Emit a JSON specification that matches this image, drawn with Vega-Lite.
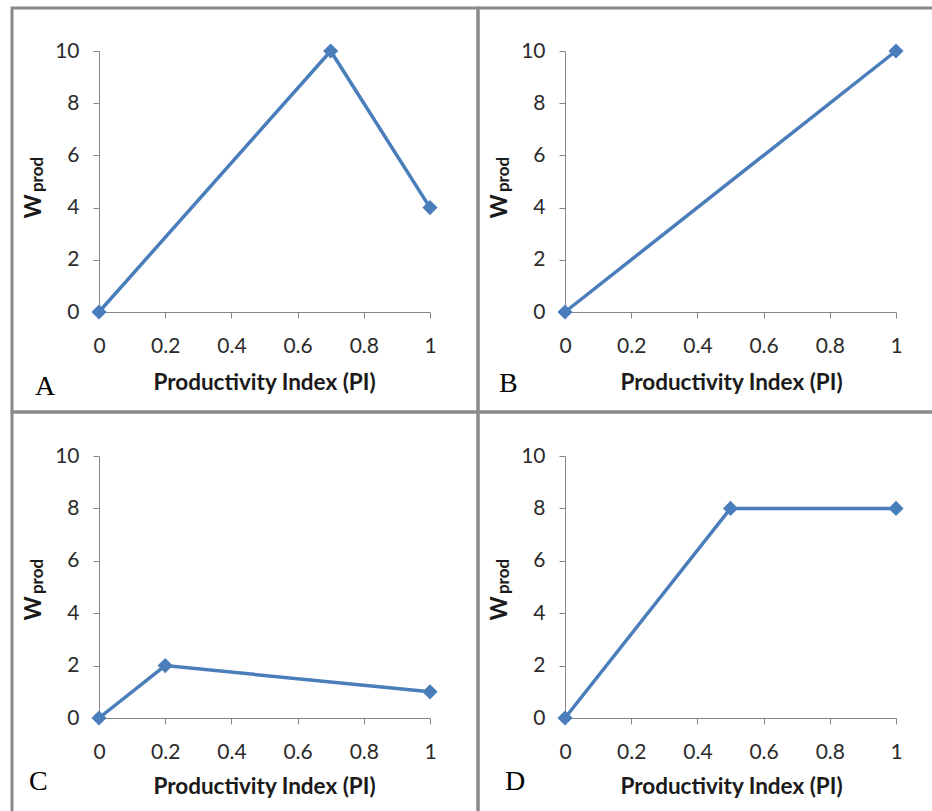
{
  "$schema": "https://vega.github.io/schema/vega-lite/v6.json",
  "padding": {"left": 10, "top": 6, "right": 0, "bottom": 0},
  "background": "white",
  "columns": 2,
  "spacing": 0,
  "bounds": "flush",
  "config": {
    "view": {"stroke": "#8a8a8a", "strokeWidth": 3},
    "axis": {
      "grid": false,
      "domainColor": "#868686",
      "tickColor": "#868686",
      "domainWidth": 1,
      "tickWidth": 1,
      "tickSize": 6,
      "labelFont": "Lato",
      "labelFontSize": 21,
      "labelColor": "#2b2b2b",
      "titleFont": "Lato",
      "titleFontWeight": "bold",
      "titleColor": "#1a1a1a",
      "labelOverlap": false,
      "labelFlush": false
    },
    "point": {"shape": "diamond", "filled": true, "size": 230, "color": "#4A7EBB", "opacity": 1},
    "line": {"color": "#4A7EBB", "strokeWidth": 3.5},
    "title": {"font": "Liberation Serif", "fontSize": 28, "fontWeight": "normal", "color": "#000000"}
  },
  "concat": [
    {
      "width": 466, "height": 404,
      "title": {"text": "A", "orient": "bottom", "anchor": "start", "frame": "group", "offset": -17, "dx": 23, "baseline": "alphabetic"},
      "data": {"values": [{"pi": 0, "w": 0}, {"pi": 0.7, "w": 10}, {"pi": 1, "w": 4}]},
      "layer": [
        {
          "mark": {"type": "line"},
          "encoding": {
            "x": {"field": "pi", "type": "quantitative", "scale": {"domain": [0, 1], "range": [87, 418], "nice": false, "zero": false},
              "axis": {"title": "Productivity Index (PI)", "values": [0, 0.2, 0.4, 0.6, 0.8, 1], "format": "~g", "offset": -100, "labelPadding": 17, "titleFontSize": 22.5, "titleX": 252, "titleY": 77, "titleBaseline": "alphabetic", "titleAlign": "center"}},
            "y": {"field": "w", "type": "quantitative", "scale": {"domain": [0, 10], "range": [304, 43], "nice": false},
              "axis": {"title": "W", "values": [0, 2, 4, 6, 8, 10], "orient": "left", "offset": -87, "labelPadding": 14, "titleFontSize": 23, "titleAngle": -90, "titleX": -59, "titleY": 198, "titleBaseline": "alphabetic", "titleAlign": "center"}}
          }
        },
        {
          "mark": {"type": "point"},
          "encoding": {
            "x": {"field": "pi", "type": "quantitative"},
            "y": {"field": "w", "type": "quantitative",
              "axis": {"title": "prod", "orient": "left", "offset": -87, "labels": false, "ticks": false, "domain": false, "titleFontSize": 17, "titleAngle": -90, "titleX": -56.5, "titleY": 166, "titleBaseline": "alphabetic", "titleAlign": "center"}}
          }
        }
      ],
      "resolve": {"axis": {"y": "independent"}}
    },
    {
      "width": 466, "height": 404,
      "title": {"text": "B", "orient": "bottom", "anchor": "start", "frame": "group", "offset": -20, "dx": 21, "baseline": "alphabetic"},
      "data": {"values": [{"pi": 0, "w": 0}, {"pi": 1, "w": 10}]},
      "layer": [
        {
          "mark": {"type": "line"},
          "encoding": {
            "x": {"field": "pi", "type": "quantitative", "scale": {"domain": [0, 1], "range": [87, 418], "nice": false, "zero": false},
              "axis": {"title": "Productivity Index (PI)", "values": [0, 0.2, 0.4, 0.6, 0.8, 1], "format": "~g", "offset": -100, "labelPadding": 17, "titleFontSize": 22.5, "titleX": 253, "titleY": 77, "titleBaseline": "alphabetic", "titleAlign": "center"}},
            "y": {"field": "w", "type": "quantitative", "scale": {"domain": [0, 10], "range": [304, 43], "nice": false},
              "axis": {"title": "W", "values": [0, 2, 4, 6, 8, 10], "orient": "left", "offset": -87, "labelPadding": 14, "titleFontSize": 23, "titleAngle": -90, "titleX": -59, "titleY": 198, "titleBaseline": "alphabetic", "titleAlign": "center"}}
          }
        },
        {
          "mark": {"type": "point"},
          "encoding": {
            "x": {"field": "pi", "type": "quantitative"},
            "y": {"field": "w", "type": "quantitative",
              "axis": {"title": "prod", "orient": "left", "offset": -87, "labels": false, "ticks": false, "domain": false, "titleFontSize": 17, "titleAngle": -90, "titleX": -56.5, "titleY": 166, "titleBaseline": "alphabetic", "titleAlign": "center"}}
          }
        }
      ],
      "resolve": {"axis": {"y": "independent"}}
    },
    {
      "width": 466, "height": 404,
      "title": {"text": "C", "orient": "bottom", "anchor": "start", "frame": "group", "offset": -26, "dx": 17, "baseline": "alphabetic"},
      "data": {"values": [{"pi": 0, "w": 0}, {"pi": 0.2, "w": 2}, {"pi": 1, "w": 1}]},
      "layer": [
        {
          "mark": {"type": "line"},
          "encoding": {
            "x": {"field": "pi", "type": "quantitative", "scale": {"domain": [0, 1], "range": [87, 418], "nice": false, "zero": false},
              "axis": {"title": "Productivity Index (PI)", "values": [0, 0.2, 0.4, 0.6, 0.8, 1], "format": "~g", "offset": -98, "labelPadding": 17, "titleFontSize": 22.5, "titleX": 252, "titleY": 75, "titleBaseline": "alphabetic", "titleAlign": "center"}},
            "y": {"field": "w", "type": "quantitative", "scale": {"domain": [0, 10], "range": [306, 44], "nice": false},
              "axis": {"title": "W", "values": [0, 2, 4, 6, 8, 10], "orient": "left", "offset": -87, "labelPadding": 14, "titleFontSize": 23, "titleAngle": -90, "titleX": -59, "titleY": 196, "titleBaseline": "alphabetic", "titleAlign": "center"}}
          }
        },
        {
          "mark": {"type": "point"},
          "encoding": {
            "x": {"field": "pi", "type": "quantitative"},
            "y": {"field": "w", "type": "quantitative",
              "axis": {"title": "prod", "orient": "left", "offset": -87, "labels": false, "ticks": false, "domain": false, "titleFontSize": 17, "titleAngle": -90, "titleX": -56.5, "titleY": 164, "titleBaseline": "alphabetic", "titleAlign": "center"}}
          }
        }
      ],
      "resolve": {"axis": {"y": "independent"}}
    },
    {
      "width": 466, "height": 404,
      "title": {"text": "D", "orient": "bottom", "anchor": "start", "frame": "group", "offset": -26, "dx": 27, "baseline": "alphabetic"},
      "data": {"values": [{"pi": 0, "w": 0}, {"pi": 0.5, "w": 8}, {"pi": 1, "w": 8}]},
      "layer": [
        {
          "mark": {"type": "line"},
          "encoding": {
            "x": {"field": "pi", "type": "quantitative", "scale": {"domain": [0, 1], "range": [87, 418], "nice": false, "zero": false},
              "axis": {"title": "Productivity Index (PI)", "values": [0, 0.2, 0.4, 0.6, 0.8, 1], "format": "~g", "offset": -98, "labelPadding": 17, "titleFontSize": 22.5, "titleX": 253, "titleY": 75, "titleBaseline": "alphabetic", "titleAlign": "center"}},
            "y": {"field": "w", "type": "quantitative", "scale": {"domain": [0, 10], "range": [306, 44], "nice": false},
              "axis": {"title": "W", "values": [0, 2, 4, 6, 8, 10], "orient": "left", "offset": -87, "labelPadding": 14, "titleFontSize": 23, "titleAngle": -90, "titleX": -59, "titleY": 196, "titleBaseline": "alphabetic", "titleAlign": "center"}}
          }
        },
        {
          "mark": {"type": "point"},
          "encoding": {
            "x": {"field": "pi", "type": "quantitative"},
            "y": {"field": "w", "type": "quantitative",
              "axis": {"title": "prod", "orient": "left", "offset": -87, "labels": false, "ticks": false, "domain": false, "titleFontSize": 17, "titleAngle": -90, "titleX": -56.5, "titleY": 164, "titleBaseline": "alphabetic", "titleAlign": "center"}}
          }
        }
      ],
      "resolve": {"axis": {"y": "independent"}}
    }
  ]
}
